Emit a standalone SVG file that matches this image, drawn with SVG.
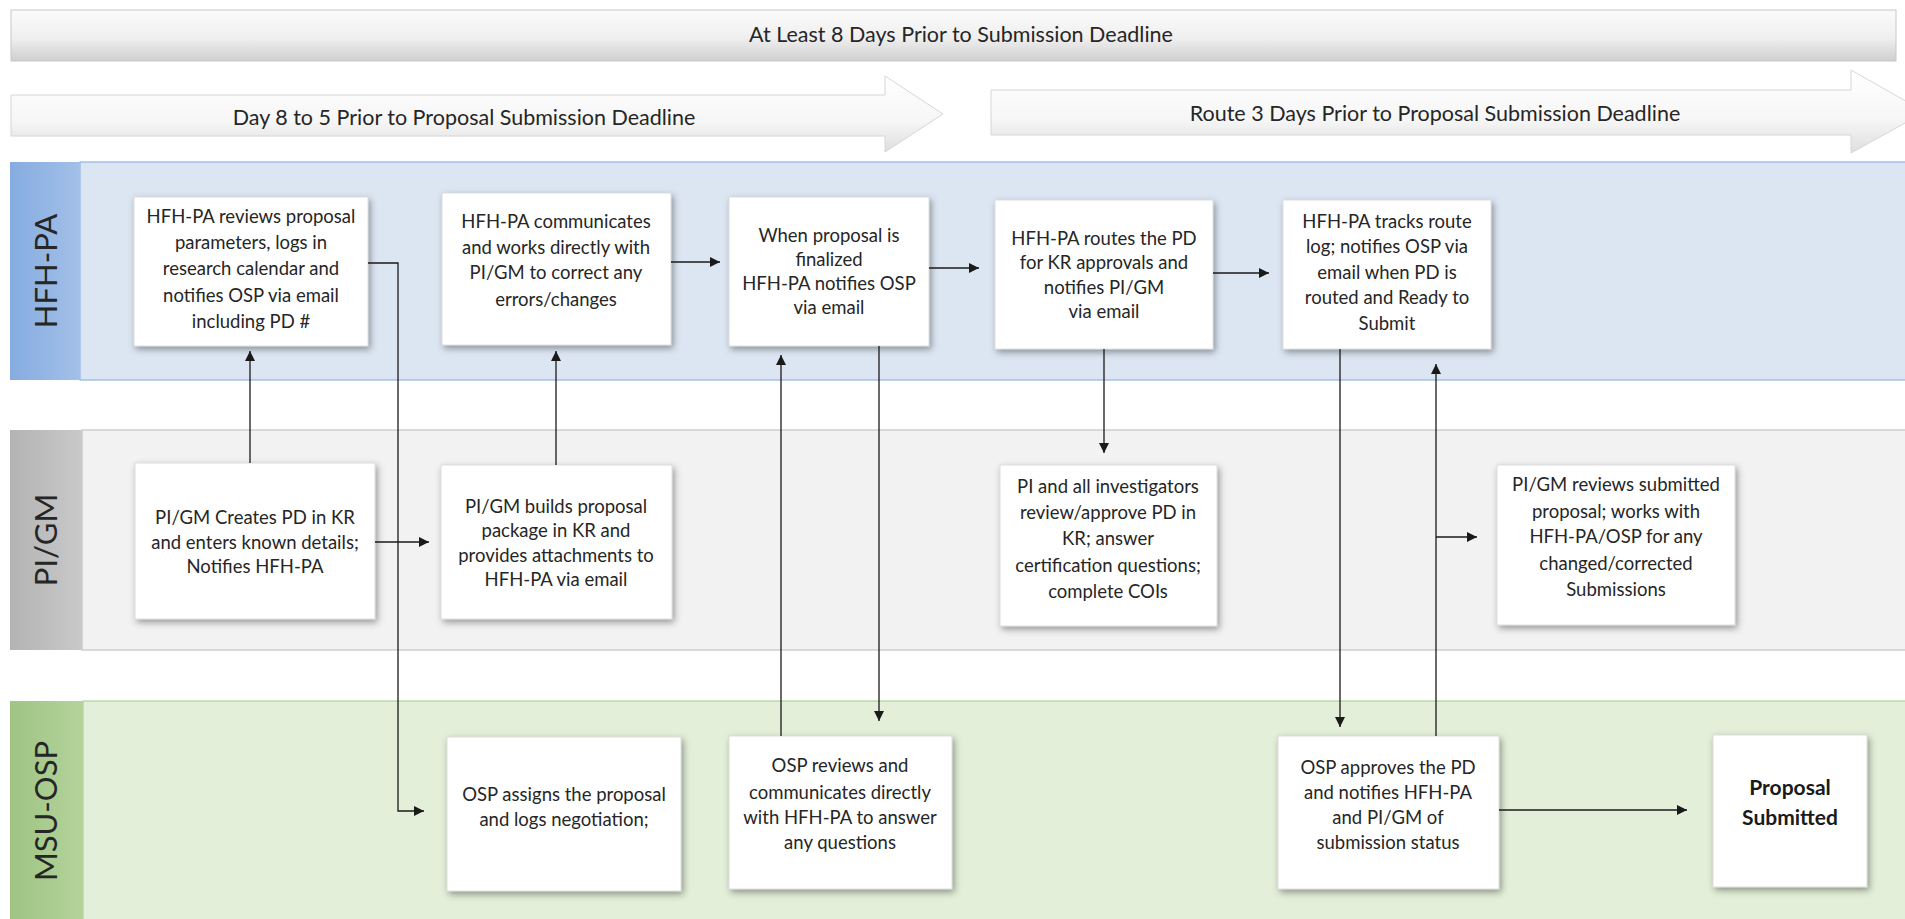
<svg xmlns="http://www.w3.org/2000/svg" width="1905" height="919" viewBox="0 0 1905 919">
<defs>
<linearGradient id="gTop" x1="0" y1="0" x2="0" y2="1">
<stop offset="0" stop-color="#fbfbfb"/><stop offset="0.55" stop-color="#efefef"/><stop offset="1" stop-color="#cfcfcf"/>
</linearGradient>
<linearGradient id="gBan" x1="0" y1="0" x2="0" y2="1">
<stop offset="0" stop-color="#ffffff"/><stop offset="0.6" stop-color="#f6f6f6"/><stop offset="1" stop-color="#dedede"/>
</linearGradient>
<linearGradient id="gBlueL" x1="0" y1="0" x2="1" y2="0">
<stop offset="0" stop-color="#86ace0"/><stop offset="1" stop-color="#a2c0e8"/>
</linearGradient>
<linearGradient id="gGreyL" x1="0" y1="0" x2="1" y2="0">
<stop offset="0" stop-color="#b3b3b3"/><stop offset="1" stop-color="#c9c9c9"/>
</linearGradient>
<linearGradient id="gGreenL" x1="0" y1="0" x2="1" y2="0">
<stop offset="0" stop-color="#9fc483"/><stop offset="1" stop-color="#b3d39b"/>
</linearGradient>
<filter id="sh" x="-10%" y="-10%" width="125%" height="125%">
<feDropShadow dx="2" dy="3" stdDeviation="3.5" flood-color="#000" flood-opacity="0.38"/>
</filter>
<marker id="ah" viewBox="0 0 10 10" refX="10" refY="5" markerWidth="10" markerHeight="10" markerUnits="userSpaceOnUse" orient="auto">
<path d="M0,0 L10,5 L0,10 z" fill="#1a1a1a"/>
</marker>
<style>
.node rect{fill:#ffffff;stroke:#d4d4d4;stroke-width:0.8;filter:url(#sh)}
.t{font-family:Lato,"Open Sans","Liberation Sans",sans-serif;font-size:18.5px;fill:#262626;text-anchor:middle}
.b{font-family:Lato,"Open Sans","Liberation Sans",sans-serif;font-size:21px;font-weight:bold;fill:#1a1a1a;text-anchor:middle}
.ban{font-family:Lato,"Open Sans","Liberation Sans",sans-serif;font-size:21.5px;fill:#262626;text-anchor:middle}
.lane{font-family:Lato,"Open Sans","Liberation Sans",sans-serif;font-size:31px;fill:#262626;text-anchor:middle}
.c{fill:none;stroke:#1a1a1a;stroke-width:1.3}
</style>
</defs>
<rect width="1905" height="919" fill="#ffffff"/>

<g id="banners">
<rect x="11" y="10" width="1885" height="51" fill="url(#gTop)" stroke="#c8c8c8" stroke-width="1"/>
<text class="ban" x="961" y="42">At Least 8 Days Prior to Submission Deadline</text>
<path d="M11,95 L885,95 L885,76 L943,114 L885,152 L885,136 L11,136 z" fill="url(#gBan)" stroke="#d6d6d6" stroke-width="1"/>
<text class="ban" x="464" y="125">Day 8 to 5 Prior to Proposal Submission Deadline</text>
<path d="M991,90 L1851,90 L1851,70 L1925,112 L1851,153 L1851,135 L991,135 z" fill="url(#gBan)" stroke="#d6d6d6" stroke-width="1"/>
<text class="ban" x="1435" y="121">Route 3 Days Prior to Proposal Submission Deadline</text>
</g>

<g id="lane-hfh">
<rect x="80" y="162" width="1830" height="218" fill="#dce6f2" stroke="#8fb5e2" stroke-width="1.2"/>
<rect x="10" y="162" width="70" height="218" fill="url(#gBlueL)"/>
<text class="lane" transform="translate(57,271) rotate(-90)">HFH-PA</text>
</g>
<g id="lane-pigm">
<rect x="82" y="430" width="1830" height="220" fill="#f2f2f2" stroke="#c4c4c4" stroke-width="1.2"/>
<rect x="10" y="430" width="72" height="220" fill="url(#gGreyL)"/>
<text class="lane" transform="translate(57,540) rotate(-90)">PI/GM</text>
</g>
<g id="lane-osp">
<rect x="83" y="701" width="1830" height="225" fill="#e3efd8" stroke="#b2d198" stroke-width="1.2"/>
<rect x="10" y="701" width="73" height="225" fill="url(#gGreenL)"/>
<text class="lane" transform="translate(57,811) rotate(-90)">MSU-OSP</text>
</g>

<g id="n1" class="node"><rect x="134" y="197" width="234" height="149"/>
<text class="t" x="251" y="223">HFH-PA reviews proposal</text>
<text class="t" x="251" y="249">parameters, logs in</text>
<text class="t" x="251" y="275">research calendar and</text>
<text class="t" x="251" y="302">notifies OSP via email</text>
<text class="t" x="251" y="328">including PD #</text></g>

<g id="n2" class="node"><rect x="442" y="193" width="229" height="152"/>
<text class="t" x="556" y="228">HFH-PA communicates</text>
<text class="t" x="556" y="254">and works directly with</text>
<text class="t" x="556" y="279">PI/GM to correct any</text>
<text class="t" x="556" y="306">errors/changes</text></g>

<g id="n3" class="node"><rect x="729" y="197" width="200" height="149"/>
<text class="t" x="829" y="242">When proposal is</text>
<text class="t" x="829" y="266">finalized</text>
<text class="t" x="829" y="290">HFH-PA notifies OSP</text>
<text class="t" x="829" y="314">via email</text></g>

<g id="n4" class="node"><rect x="995" y="200" width="218" height="149"/>
<text class="t" x="1104" y="245">HFH-PA routes the PD</text>
<text class="t" x="1104" y="269">for KR approvals and</text>
<text class="t" x="1104" y="294">notifies PI/GM</text>
<text class="t" x="1104" y="318">via email</text></g>

<g id="n5" class="node"><rect x="1283" y="200" width="208" height="149"/>
<text class="t" x="1387" y="228">HFH-PA tracks route</text>
<text class="t" x="1387" y="253">log; notifies OSP via</text>
<text class="t" x="1387" y="279">email when PD is</text>
<text class="t" x="1387" y="304">routed and Ready to</text>
<text class="t" x="1387" y="330">Submit</text></g>

<g id="n6" class="node"><rect x="135" y="463" width="240" height="156"/>
<text class="t" x="255" y="524">PI/GM Creates PD in KR</text>
<text class="t" x="255" y="549">and enters known details;</text>
<text class="t" x="255" y="573">Notifies HFH-PA</text></g>

<g id="n7" class="node"><rect x="441" y="465" width="231" height="154"/>
<text class="t" x="556" y="513">PI/GM builds proposal</text>
<text class="t" x="556" y="537">package in KR and</text>
<text class="t" x="556" y="562">provides attachments to</text>
<text class="t" x="556" y="586">HFH-PA via email</text></g>

<g id="n8" class="node"><rect x="1000" y="465" width="217" height="161"/>
<text class="t" x="1108" y="493">PI and all investigators</text>
<text class="t" x="1108" y="519">review/approve PD in</text>
<text class="t" x="1108" y="545">KR; answer</text>
<text class="t" x="1108" y="572">certification questions;</text>
<text class="t" x="1108" y="598">complete COIs</text></g>

<g id="n9" class="node"><rect x="1497" y="465" width="238" height="160"/>
<text class="t" x="1616" y="491">PI/GM reviews submitted</text>
<text class="t" x="1616" y="518">proposal; works with</text>
<text class="t" x="1616" y="543">HFH-PA/OSP for any</text>
<text class="t" x="1616" y="570">changed/corrected</text>
<text class="t" x="1616" y="596">Submissions</text></g>

<g id="n10" class="node"><rect x="447" y="737" width="234" height="154"/>
<text class="t" x="564" y="801">OSP assigns the proposal</text>
<text class="t" x="564" y="826">and logs negotiation;</text></g>

<g id="n11" class="node"><rect x="729" y="736" width="223" height="153"/>
<text class="t" x="840" y="772">OSP reviews and</text>
<text class="t" x="840" y="799">communicates directly</text>
<text class="t" x="840" y="824">with HFH-PA to answer</text>
<text class="t" x="840" y="849">any questions</text></g>

<g id="n12" class="node"><rect x="1278" y="736" width="221" height="153"/>
<text class="t" x="1388" y="774">OSP approves the PD</text>
<text class="t" x="1388" y="799">and notifies HFH-PA</text>
<text class="t" x="1388" y="824">and PI/GM of</text>
<text class="t" x="1388" y="849">submission status</text></g>

<g id="n13" class="node"><rect x="1713" y="735" width="154" height="152"/>
<text class="b" x="1790" y="795">Proposal</text>
<text class="b" x="1790" y="825">Submitted</text></g>

<g id="connectors">
<path class="c" d="M250,463 V351" marker-end="url(#ah)"/>
<path class="c" d="M556,465 V351" marker-end="url(#ah)"/>
<path class="c" d="M368,263 H398 V811 H424" marker-end="url(#ah)"/>
<path class="c" d="M375,542 H429" marker-end="url(#ah)"/>
<path class="c" d="M671,262 H720" marker-end="url(#ah)"/>
<path class="c" d="M929,268 H979" marker-end="url(#ah)"/>
<path class="c" d="M1213,273 H1269" marker-end="url(#ah)"/>
<path class="c" d="M781,736 V355" marker-end="url(#ah)"/>
<path class="c" d="M879,346 V721" marker-end="url(#ah)"/>
<path class="c" d="M1104,349 V453" marker-end="url(#ah)"/>
<path class="c" d="M1340,349 V727" marker-end="url(#ah)"/>
<path class="c" d="M1436,736 V364" marker-end="url(#ah)"/>
<path class="c" d="M1436,537 H1477" marker-end="url(#ah)"/>
<path class="c" d="M1499,810 H1687" marker-end="url(#ah)"/>
</g>
</svg>
